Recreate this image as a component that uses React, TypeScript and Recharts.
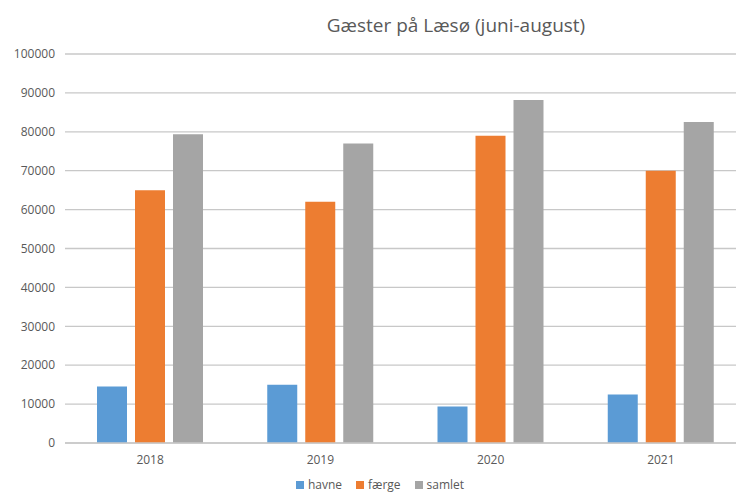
import { BarChart, Bar, XAxis, YAxis, CartesianGrid } from "recharts";

const years = ["2018", "2019", "2020", "2021"];
const havne = [14500, 15000, 9400, 12500];
const faerge = [65000, 62000, 79000, 70000];
const samlet = [79400, 77000, 88200, 82500];
const yTicks = [0, 10000, 20000, 30000, 40000, 50000, 60000, 70000, 80000, 90000, 100000];

const series = [
  { key: "havne", color: "#5B9BD5" },
  { key: "færge", color: "#ED7D31" },
  { key: "samlet", color: "#A5A5A5" },
];

const data = years.map((year, i) => ({
  year,
  havne: havne[i],
  færge: faerge[i],
  samlet: samlet[i],
}));

const font = "'Open Sans', 'Liberation Sans', sans-serif";
const textColor = "#595959";
const gridColor = "#c8c8c8";

export default function App() {
  return (
    <div
      style={{
        position: "fixed",
        left: 0,
        top: 0,
        width: 736,
        height: 493,
        overflow: "hidden",
        background: "#fff",
        fontFamily: font,
      }}
    >
      <div
        style={{
          position: "absolute",
          left: 0,
          top: 12,
          width: 912,
          textAlign: "center",
          fontSize: 19,
          lineHeight: "26px",
          color: textColor,
        }}
      >
        Gæster på Læsø (juni-august)
      </div>
      <BarChart
        width={760}
        height={493}
        data={data}
        margin={{ top: 54, right: 14, bottom: 20, left: 0 }}
        barSize={30}
        barGap={8}
      >
        <CartesianGrid vertical={false} stroke={gridColor} strokeWidth={1.3} />
        <XAxis
          dataKey="year"
          height={30}
          tickLine={false}
          axisLine={{ stroke: gridColor, strokeWidth: 1.3 }}
          tickMargin={6}
          tick={{ fontSize: 12, fill: textColor, fontFamily: font }}
        />
        <YAxis
          width={65}
          domain={[0, 100000]}
          ticks={yTicks}
          interval={0}
          tickLine={false}
          axisLine={false}
          tickMargin={4}
          tick={{ fontSize: 12, fill: textColor, fontFamily: font }}
        />
        {series.map((s) => (
          <Bar key={s.key} dataKey={s.key} fill={s.color} isAnimationActive={false} />
        ))}
      </BarChart>
      <div
        style={{
          position: "absolute",
          left: 0,
          top: 477,
          width: 760,
          display: "flex",
          justifyContent: "center",
          gap: 14,
          fontSize: 12,
          lineHeight: "16px",
          color: textColor,
        }}
      >
        {series.map((s) => (
          <span key={s.key} style={{ display: "flex", alignItems: "center" }}>
            <span
              style={{
                display: "inline-block",
                width: 8,
                height: 8,
                background: s.color,
                marginRight: 4,
              }}
            />
            {s.key}
          </span>
        ))}
      </div>
    </div>
  );
}
